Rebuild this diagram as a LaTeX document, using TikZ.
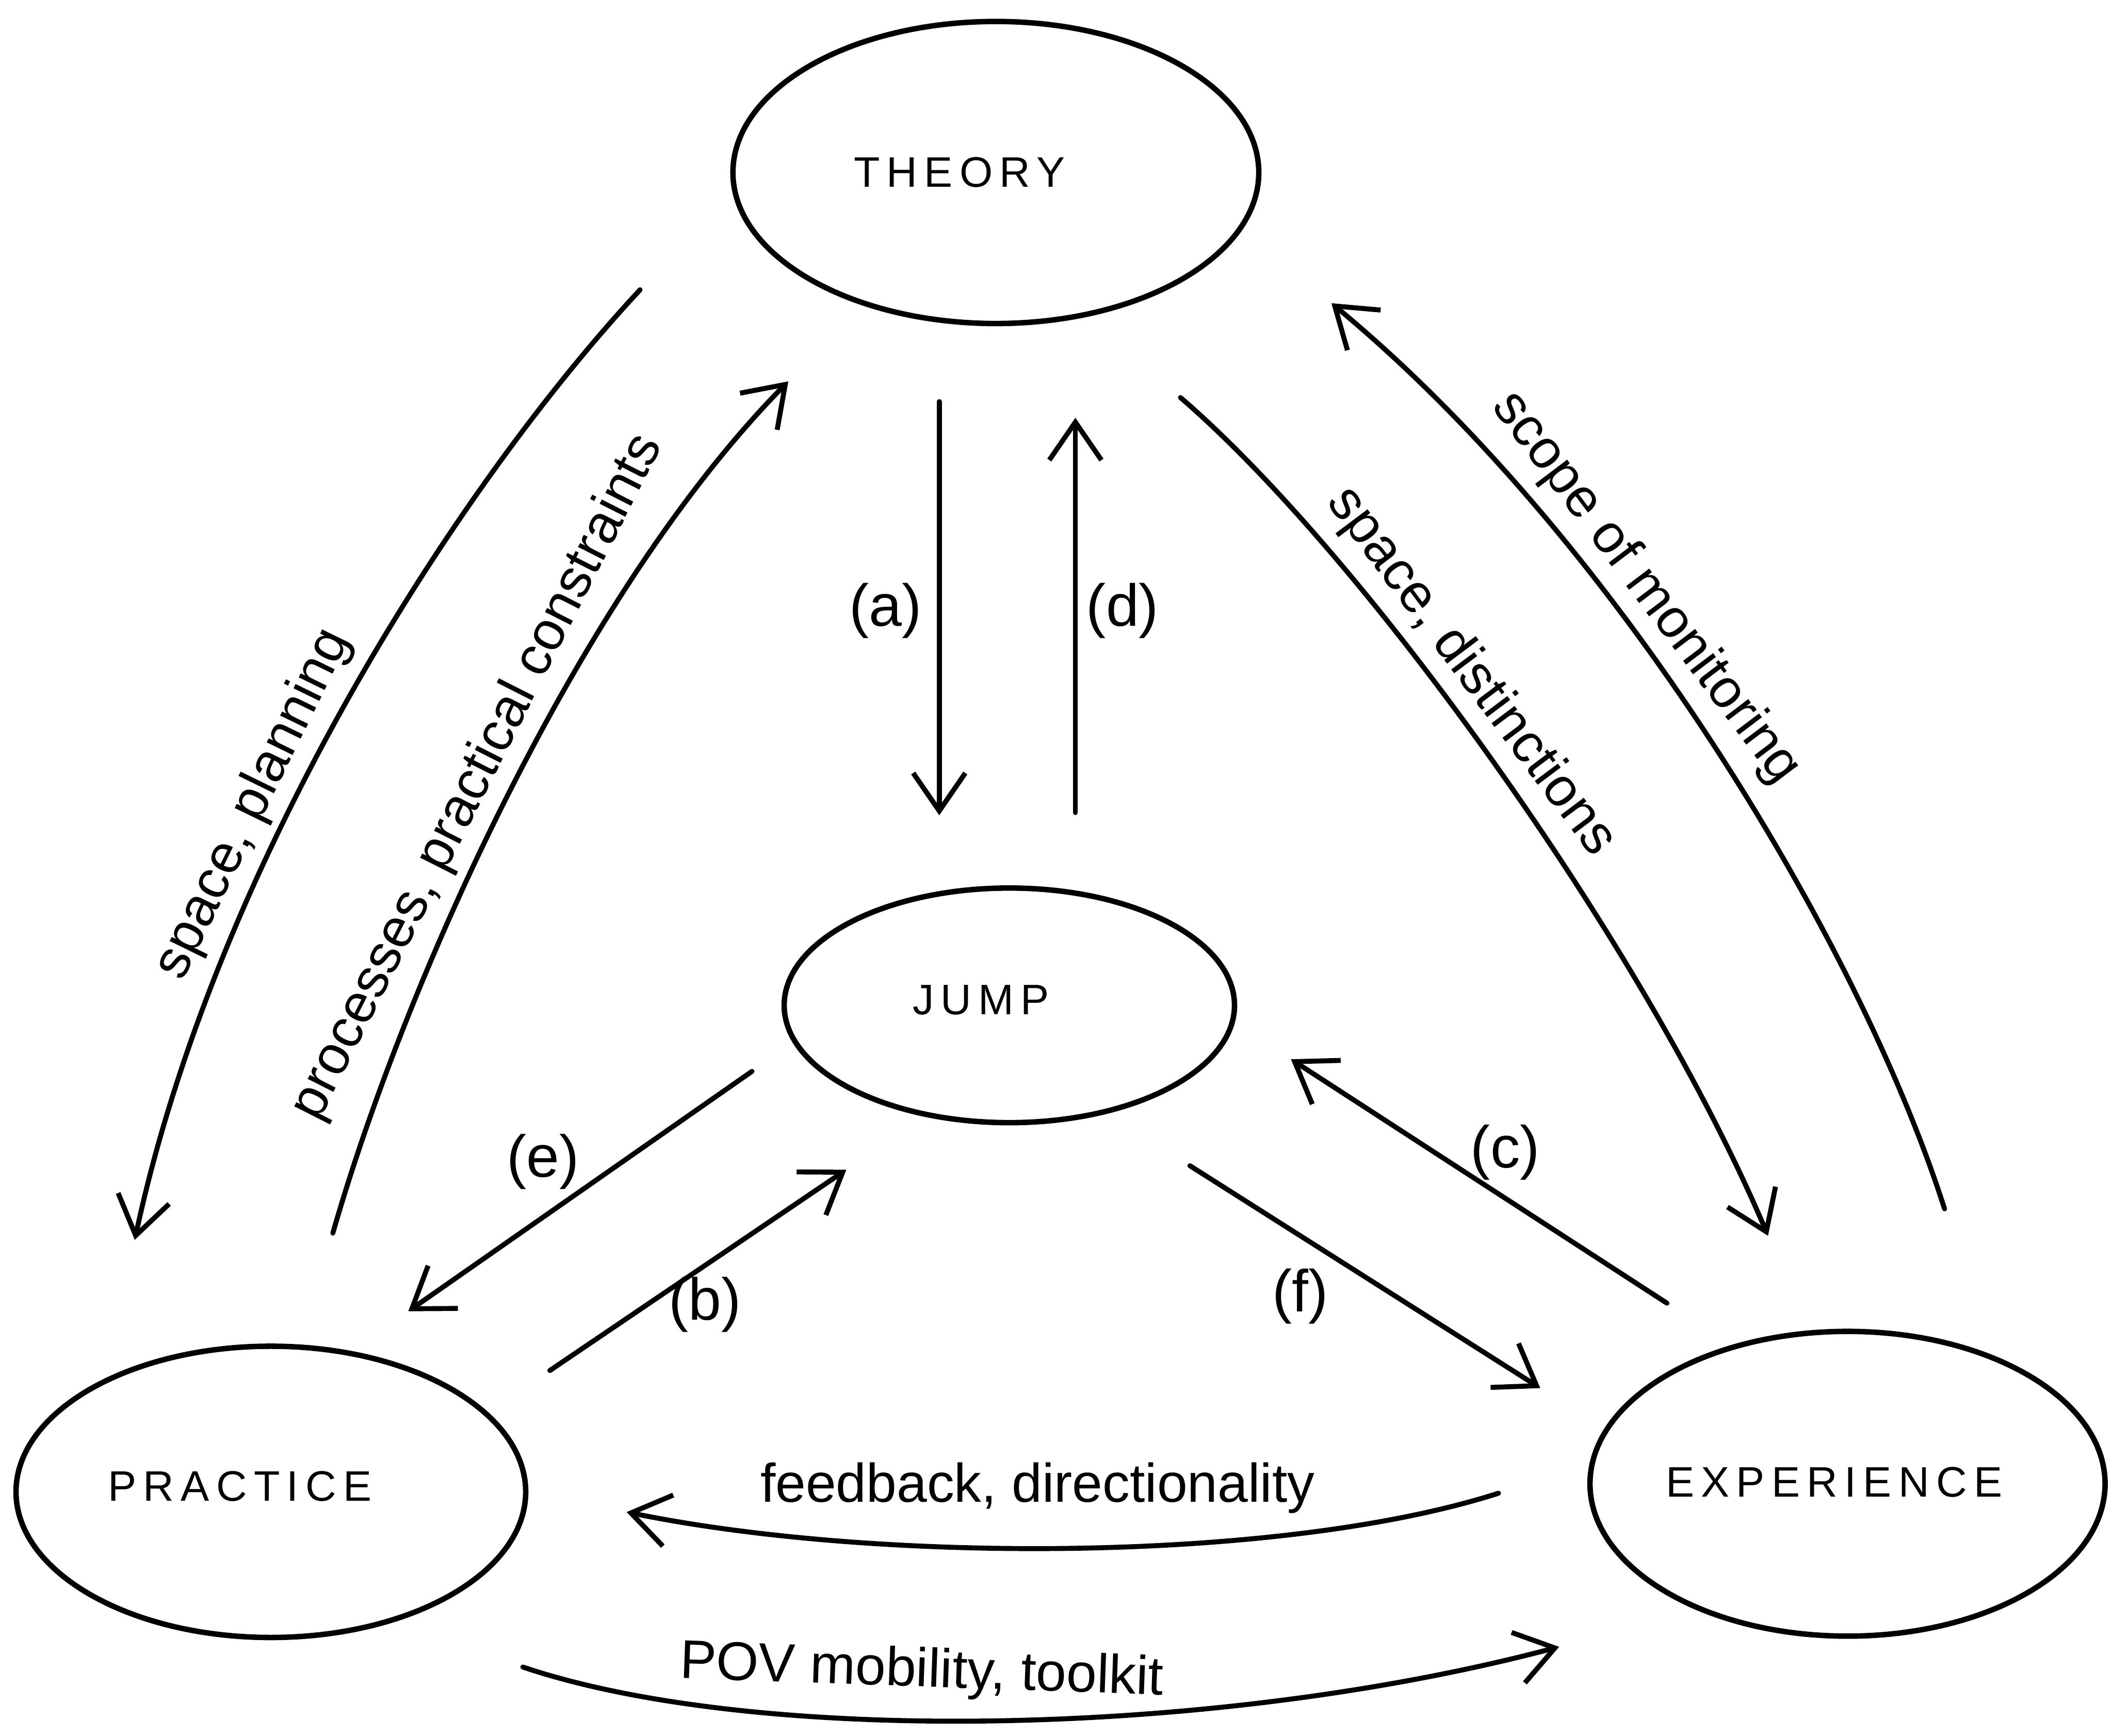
\documentclass[tikz,border=0pt]{standalone}
\usepackage{fontspec}
\setmainfont{Liberation Sans}
\newfontfamily\capsfont[LetterSpace=16]{Liberation Sans}
\usetikzlibrary{shapes.geometric,arrows.meta}
\begin{document}
\begin{tikzpicture}[x=0.01cm,y=-0.01cm,
  blob/.style={draw, ellipse, line width=1.15pt, inner sep=0pt},
  conn/.style={line width=1.05pt, line cap=round, -{Straight Barb[length=8pt,width=11pt]}},
  capt/.style={font=\capsfont\fontsize{9}{11}\selectfont, inner sep=0pt},
  lab/.style={font=\fontsize{11.5}{13}\selectfont, inner sep=1.5pt},
  tag/.style={font=\fontsize{12.5}{14}\selectfont, inner sep=0pt}]
\useasboundingbox (0,0) rectangle (1568,1288);

% ellipses
\node[blob, minimum width=3.9cm, minimum height=2.24cm] (theory) at (739,128) {};
\node[capt] (theoryt) at (712,128) {THEORY};
\node[blob, minimum width=3.34cm, minimum height=1.74cm] (jump) at (749,746) {};
\node[capt] (jumpt) at (728,742) {JUMP};
\node[blob, minimum width=3.78cm, minimum height=2.16cm] (practice) at (201,1107) {};
\node[capt] (practicet) at (178,1103) {PRACTICE};
\node[blob, minimum width=3.82cm, minimum height=2.26cm] (experience) at (1371,1101) {};
\node[capt] (experiencet) at (1361,1100) {EXPERIENCE};

% connector end points
\coordinate (p1s) at (475,215);  \coordinate (p1e) at (100,920);
\coordinate (p2s) at (247,915);  \coordinate (p2e) at (585,283);
\coordinate (as) at (697,298);   \coordinate (ae) at (697,605);
\coordinate (ds) at (798,603);   \coordinate (de) at (798,310);
\coordinate (p5s) at (876,295);  \coordinate (p5e) at (1312,917);
\coordinate (p6s) at (1443,897); \coordinate (p6e) at (988,225);
\coordinate (cs) at (1237,967);  \coordinate (ce) at (958,786);
\coordinate (fs) at (883,865);   \coordinate (fe) at (1143,1030);
\coordinate (es) at (558,795);   \coordinate (ee) at (303,973);
\coordinate (bs) at (408,1017);  \coordinate (be) at (628,868);
\coordinate (p11s) at (1112,1108); \coordinate (p11e) at (465,1122);
\coordinate (p12s) at (388,1237);  \coordinate (p12e) at (1157,1222);

% curved connectors
\draw[conn] (p1s) .. controls (340,360) and (160,640) .. (p1e)
  node[lab, pos=0.62, sloped, above] (l1) {space, planning};
\draw[conn] (p2s) .. controls (300,730) and (430,440) .. (p2e)
  node[lab, pos=0.5, sloped, above] (l2) {processes, practical constraints};
\draw[conn] (p5s) .. controls (1010,410) and (1220,700) .. (p5e)
  node[lab, pos=0.42, sloped, above] (l5) {space, distinctions};
\draw[conn] (p6s) .. controls (1380,700) and (1200,400) .. (p6e)
  node[lab, pos=0.64, sloped, above] (l6) {scope of monitoring};
\draw[conn] (p11s) .. controls (950,1160) and (650,1160) .. (p11e);
\node[lab] (l11) at (770,1104) {feedback, directionality};
\draw[conn] (p12s) .. controls (560,1295) and (900,1290) .. (p12e);
\node[lab, rotate=-2] (l12) at (684,1241) {POV mobility, toolkit};

% straight connectors
\draw[conn] (as) -- (ae);
\draw[conn] (ds) -- (de);
\draw[conn] (cs) -- (ce);
\draw[conn] (fs) -- (fe);
\draw[conn] (es) -- (ee);
\draw[conn] (bs) -- (be);

% letter tags
\node[tag] (ta) at (657,453) {(a)};
\node[tag] (td) at (833,453) {(d)};
\node[tag] (te) at (403,862) {(e)};
\node[tag] (tb) at (523,968) {(b)};
\node[tag] (tc) at (1117,855) {(c)};
\node[tag] (tf) at (965,962) {(f)};
\end{tikzpicture}
\end{document}
